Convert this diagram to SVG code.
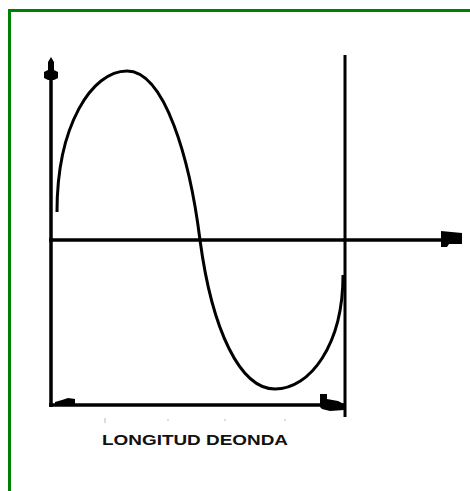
<svg xmlns="http://www.w3.org/2000/svg" width="470" height="491" viewBox="0 0 470 491">
<style>
.ink{stroke:#000;fill:none;stroke-linecap:butt}
.head{fill:#000;stroke:none}
.lbl{font-family:"Liberation Sans",Arial,sans-serif;font-weight:bold;font-size:15px;fill:#111}
.tick{stroke:#bbb;stroke-width:1}
</style>
<rect x="0" y="0" width="470" height="491" fill="#fff"/>
<rect id="frame" x="9.5" y="10.5" width="480" height="500" fill="none" stroke="#008000" stroke-width="3"/>
<g id="axes">
<line class="ink" x1="51" y1="72" x2="51" y2="407" stroke-width="3.5"/>
<path class="head" d="M48 70 L48 62 L51 57 L54 62 L54 70 L58 72 L58 78 L54 80 L48 80 L44 78 L44 72 Z"/>
<line class="ink" x1="49" y1="240" x2="442" y2="240" stroke-width="3.5"/>
<path class="head" d="M441 231 L462 233 L462 244 L449 244 L447 247 L441 247 Z"/>
<line class="ink" x1="345" y1="55" x2="345" y2="417" stroke-width="3"/>
<line class="ink" x1="49" y1="405" x2="345" y2="405" stroke-width="3.5"/>
<path class="head" d="M55 402 L62 400 L68 398 L75 399 L75 404 L55 404 Z"/>
<path class="head" d="M320 394 L327 394 L327 399 L338 401 L344 404 L344 410 L330 411 L322 409 L320 407 Z"/>
</g>
<g id="wave">
<path class="ink" stroke-width="3" d="M57 212 C57 125 92 71 127 71 C165 71 190 160 200 240 C212 330 240 389 275 389 C310 389 343 345 343 275"/>
</g>
<g id="ticks">
<line class="tick" x1="105" y1="418" x2="105" y2="423"/>
<line class="tick" x1="168" y1="419" x2="168" y2="421"/>
<line class="tick" x1="225" y1="419" x2="225" y2="421"/>
<line class="tick" x1="285" y1="419" x2="285" y2="421"/>
</g>
<g id="label">
<text class="lbl" x="102" y="445" textLength="186" lengthAdjust="spacingAndGlyphs">LONGITUD DEONDA</text>
</g>
</svg>
